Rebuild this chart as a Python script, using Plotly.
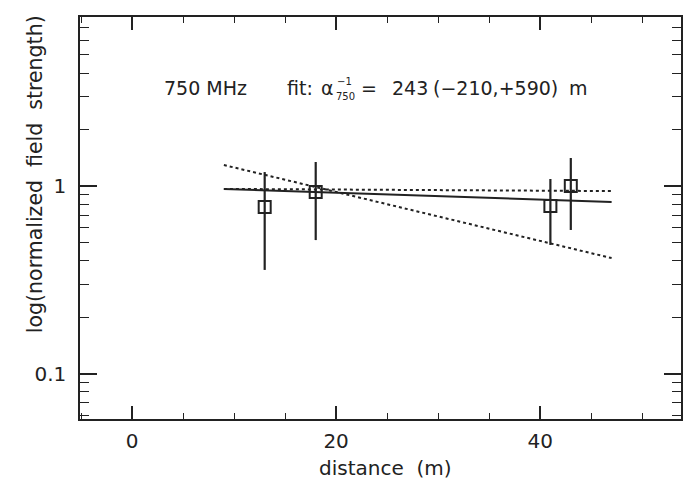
import plotly.graph_objects as go

# data
distance = [13, 18, 41, 43]
field = [0.773, 0.929, 0.782, 1.0]
err_hi = [1.187, 1.343, 1.09, 1.41]
err_lo = [0.357, 0.515, 0.485, 0.583]

fit_x = [9, 47]
fit_best = [0.964, 0.822]
fit_upper = [0.965, 0.94]
fit_lower = [1.294, 0.413]

x_ticks = [0, 20, 40]
x_minor = [-5, 5, 10, 15, 25, 30, 35, 45, 50]
y_ticks = [0.1, 1]
y_minor = [0.06, 0.07, 0.08, 0.09, 0.2, 0.3, 0.4, 0.5, 0.6, 0.7, 0.8, 0.9, 2, 3, 4, 5, 6, 7, 8]

FONT = "DejaVu Sans"
INK = "#222222"

fig = go.Figure()

fig.add_trace(go.Scatter(x=fit_x, y=fit_lower, mode="lines",
                         line=dict(color=INK, width=2, dash="dot"), showlegend=False))
fig.add_trace(go.Scatter(x=fit_x, y=fit_upper, mode="lines",
                         line=dict(color=INK, width=2, dash="dot"), showlegend=False))
fig.add_trace(go.Scatter(x=fit_x, y=fit_best, mode="lines",
                         line=dict(color=INK, width=2), showlegend=False))

fig.add_trace(go.Scatter(
    x=distance, y=field, mode="markers",
    marker=dict(symbol="square-open", size=12, color=INK, line=dict(width=2, color=INK)),
    error_y=dict(type="data", symmetric=False,
                 array=[h - v for h, v in zip(err_hi, field)],
                 arrayminus=[v - l for l, v in zip(err_lo, field)],
                 color=INK, thickness=2.2, width=0),
    showlegend=False))

L, R, T, B = 80, 683, 17, 419
W, H = 684, 483


def px(x):
    return (x - L) / (R - L)


def py(y):
    return (B - y) / (B - T)


def txt(text, x, y, size, **kw):
    d = dict(text=text, x=px(x), y=py(y), xanchor="left", yanchor="middle",
             font=dict(size=size, family=FONT, color=INK),
             xref="paper", yref="paper", showarrow=False)
    d.update(kw)
    return d


ann = [
    txt("750 MHz", 162, 88, 19),
    txt("fit:", 286, 88, 19),
    txt("α", 320, 88, 19),
    txt("−1", 336, 81, 10),
    txt("750", 335, 96, 10),
    txt("=", 360, 88, 19),
    txt("243", 391, 88, 19),
    txt("(−210,+590)", 432, 88, 19),
    txt("m", 569, 88, 19),
    txt("log(normalized  field  strength)", 35, 174, 20.5, xanchor="center", textangle=-90),
    txt("distance  (m)", 387, 468, 20, xanchor="center"),
]

fig.update_layout(
    width=W, height=H,
    margin=dict(l=L, r=W - R, t=T, b=H - B),
    paper_bgcolor="white", plot_bgcolor="white",
    annotations=ann,
    font=dict(family=FONT, color=INK, size=18),
)

fig.update_xaxes(
    range=[-5.1, 53.8], showgrid=False, zeroline=False,
    showline=True, linecolor=INK, linewidth=1.5, mirror="allticks",
    ticks="inside", ticklen=13, tickwidth=1.5, tickcolor=INK,
    tickvals=x_ticks, ticktext=[str(v) for v in x_ticks],
    ticklabelstandoff=3,
    minor=dict(ticks="inside", ticklen=6, tickwidth=1, tickcolor=INK, tickvals=x_minor, showgrid=False),
    tickfont=dict(size=20, family=FONT, color=INK),
)
fig.update_yaxes(
    type="log", range=[-1.242, 0.901], showgrid=False, zeroline=False,
    showline=True, linecolor=INK, linewidth=1.5, mirror="allticks",
    ticks="inside", ticklen=17, tickwidth=1.5, tickcolor=INK,
    tickvals=y_ticks, ticktext=["0.1", "1"],
    ticklabelstandoff=8,
    minor=dict(ticks="inside", ticklen=9, tickwidth=1, tickcolor=INK, tickvals=y_minor, showgrid=False),
    tickfont=dict(size=20, family=FONT, color=INK),
)

fig.write_html("out.html", config={"displayModeBar": False},
               post_script="document.body.style.margin='0';document.body.style.overflow='hidden';")
